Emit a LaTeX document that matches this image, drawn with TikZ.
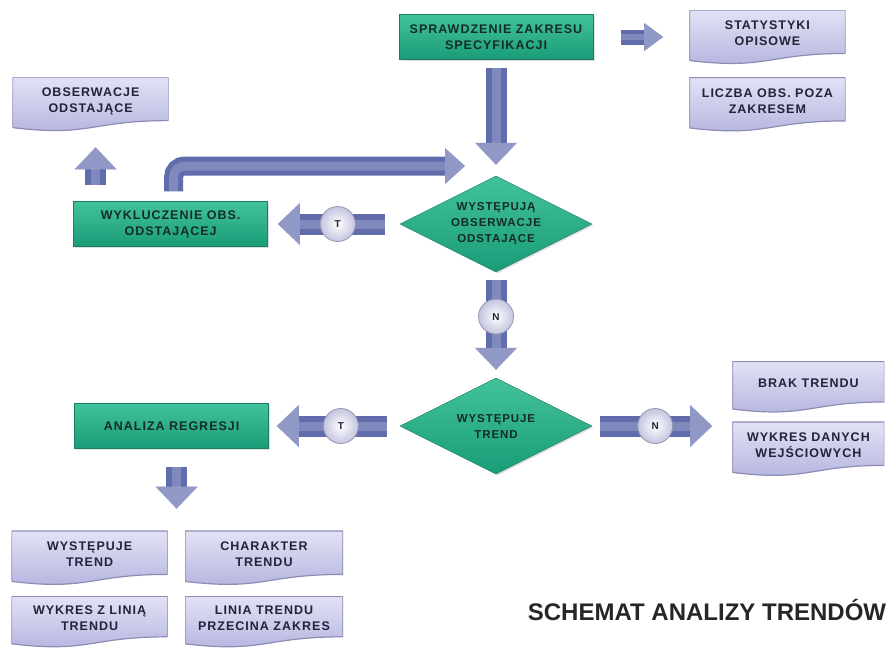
\documentclass[tikz,border=0pt]{standalone}
\usepackage{fontspec}
\setmainfont{Liberation Sans}
\newfontfamily\boxfont[LetterSpace=8]{Liberation Sans}
\usepackage{tikz}
\usetikzlibrary{calc}
\usetikzlibrary{positioning}
\usetikzlibrary{shapes,arrows.meta,shadows}

\definecolor{greenTop}{RGB}{66,194,156}
\definecolor{greenBottom}{RGB}{26,156,120}
\definecolor{greenEdge}{RGB}{22,128,96}
\definecolor{greenText}{RGB}{20,44,38}
\definecolor{docTop}{RGB}{226,226,246}
\definecolor{docBottom}{RGB}{178,178,222}
\definecolor{docEdge}{RGB}{140,140,182}
\definecolor{docText}{RGB}{34,34,58}
\definecolor{arrowBlue}{RGB}{96,108,172}
\definecolor{circFill}{RGB}{196,196,224}
\definecolor{circEdge}{RGB}{150,150,175}

\begin{document}
\begin{tikzpicture}[x=1pt, y=-1pt]
            % Set primary nodes
            \tikzset{
                checkNode/.style={
                        rectangle,
                        draw=greenEdge,
                        top color=greenTop,
                        bottom color=greenBottom,
                        drop shadow={opacity=0.25, shadow xshift=1.5pt, shadow yshift=-1.5pt},
                        minimum height=45pt,
                        minimum width=194pt,
                        align=center,
                        text=greenText,
                        font=\boxfont\bfseries\fontsize{12.5}{16}\selectfont
                    }
            }
            \tikzset{
                decisionNode/.style={
                        diamond,
                        draw=greenEdge,
                        top color=greenTop,
                        bottom color=greenBottom,
                        drop shadow={opacity=0.25, shadow xshift=1.5pt, shadow yshift=-1.5pt},
                        shape aspect=2,
                        inner sep=0pt,
                        minimum height=96pt,
                        minimum width=192pt,
                        align=center,
                        text=greenText,
                        font=\boxfont\bfseries\fontsize{11.5}{16}\selectfont
                    }
            }
            \tikzset{
                docNode/.style={
                        rectangle,
                        minimum height=54pt,
                        minimum width=156pt,
                        text depth=7pt,
                        align=center,
                        text=docText,
                        font=\boxfont\bfseries\fontsize{12.5}{16}\selectfont,
                        path picture={
                                \shade[top color=docTop, bottom color=docBottom, draw=docEdge, line width=1.2pt]
                                    (path picture bounding box.north west) -- (path picture bounding box.north east)
                                    -- ($(path picture bounding box.south east)+(0pt,10.5pt)$)
                                    .. controls ($(path picture bounding box.south east)!0.5!(path picture bounding box.south west)+(0pt,10.5pt)$)
                                    and ($(path picture bounding box.south east)!0.5!(path picture bounding box.south west)+(0pt,-6pt)$)
                                    .. ($(path picture bounding box.south west)+(0pt,3.5pt)$) -- cycle;
                            }
                    }
            }
            \tikzset{
                circNode/.style={
                        circle,
                        draw=circEdge,
                        line width=0.8pt,
                        inner color=white,
                        outer color=circFill,
                        minimum size=35pt,
                        inner sep=0pt,
                        text=docText,
                        font=\bfseries\fontsize{10}{10}\selectfont
                    }
            }
            % Configure arrows
            \tikzstyle{shine} = [postaction={draw=white, draw opacity=0.2, fill opacity=0.3, line width=9pt}]
            \tikzstyle{bigArrow} = [draw=arrowBlue, line width=21pt, -{Triangle[width=42pt, length=22pt, line width=0pt]}, shine]
            \tikzstyle{bentArrow} = [draw=arrowBlue, line width=19pt, rounded corners=11pt, -{Triangle[width=36pt, length=20pt, line width=0pt]}, shine]
            \tikzstyle{smallArrow} = [draw=arrowBlue, line width=15pt, -{Triangle[width=28pt, length=19pt, line width=0pt]}, postaction={draw=white, draw opacity=0.2, fill opacity=0.3, line width=6pt}]
            \useasboundingbox (0,0) rectangle (888,651);
            % Placing nodes
            \node[checkNode](checkRange) at (496,37){SPRAWDZENIE ZAKRESU\\SPECYFIKACJI};
            \node[docNode, right = 96pt of checkRange](statsBox){STATYSTYKI\\OPISOWE};
            \node[docNode, below = 13pt of statsBox](countBox){LICZBA OBS. POZA\\ZAKRESEM};
            \node[decisionNode](outlierTest) at (496,224){WYSTĘPUJĄ\\OBSERWACJE\\ODSTAJĄCE};
            \node[checkNode, left = 132pt of outlierTest](excludeBox){WYKLUCZENIE OBS.\\ODSTAJĄCEJ};
            \node[docNode, above = 70pt of excludeBox, xshift = -80pt](outliersBox){OBSERWACJE\\ODSTAJĄCE};
            \coordinate[above = 0pt of excludeBox, xshift = 3pt](loopStart);
            \coordinate (loopEnd) at (465,166);
            \node[decisionNode](trendTest) at (496,426){WYSTĘPUJE\\TREND};
            \node[checkNode, left = 131pt of trendTest](regressionBox){ANALIZA REGRESJI};
            \node[docNode, minimum width=152pt, minimum height=51pt, right = 140pt of trendTest, yshift = 39pt](noTrendBox){BRAK TRENDU};
            \node[docNode, minimum width=152pt, below = 9pt of noTrendBox](inputPlotBox){WYKRES DANYCH\\WEJŚCIOWYCH};
            \node[docNode, below = 82pt of regressionBox, xshift = -82pt](trendBox){WYSTĘPUJE\\TREND};
            \node[docNode, minimum width=158pt, right = 17pt of trendBox](trendCharBox){CHARAKTER\\TRENDU};
            \node[docNode, minimum height=51pt, below = 11pt of trendBox](trendLineBox){WYKRES Z LINIĄ\\TRENDU};
            \node[docNode, minimum width=158pt, minimum height=51pt, below = 11pt of trendCharBox](rangeBox){LINIA TRENDU\\PRZECINA ZAKRES};
            \node[font=\bfseries\fontsize{24}{28}\selectfont, text=black!85](title) at (707,610){SCHEMAT ANALIZY TRENDÓW};
            % Draw arrows
            \draw[smallArrow, shorten <=28pt, shorten >=26pt](checkRange) -- (statsBox);
            \draw[bigArrow, shorten <=8pt, shorten >=11pt](checkRange) -- (outlierTest);
            \draw[bentArrow, shorten <=10pt](loopStart) |- (loopEnd);
            \draw[bigArrow, shorten <=16pt, shorten >=16pt]([xshift=5pt]excludeBox.north -| outliersBox.south) -- ([xshift=5pt]outliersBox.south);
            \draw[bigArrow, shorten <=15pt, shorten >=10pt](outlierTest) -- (excludeBox) node[circNode, pos=0.47]{T};
            \draw[bigArrow, shorten <=8pt, shorten >=8pt](outlierTest) -- (trendTest) node[circNode, pos=0.42]{N};
            \draw[bigArrow, shorten <=13pt, shorten >=8pt](trendTest.west) -- (trendTest.west -| regressionBox.east) node[circNode, pos=0.45]{T};
            \draw[bigArrow, shorten <=8pt, shorten >=20pt](trendTest.east) -- (trendTest.east -| inputPlotBox.west) node[circNode, pos=0.45]{N};
            \draw[bigArrow, shorten <=18pt, shorten >=22pt]([xshift=5pt]regressionBox.south) -- ([xshift=5pt]regressionBox.south |- trendBox.north);

        \end{tikzpicture}
\end{document}
